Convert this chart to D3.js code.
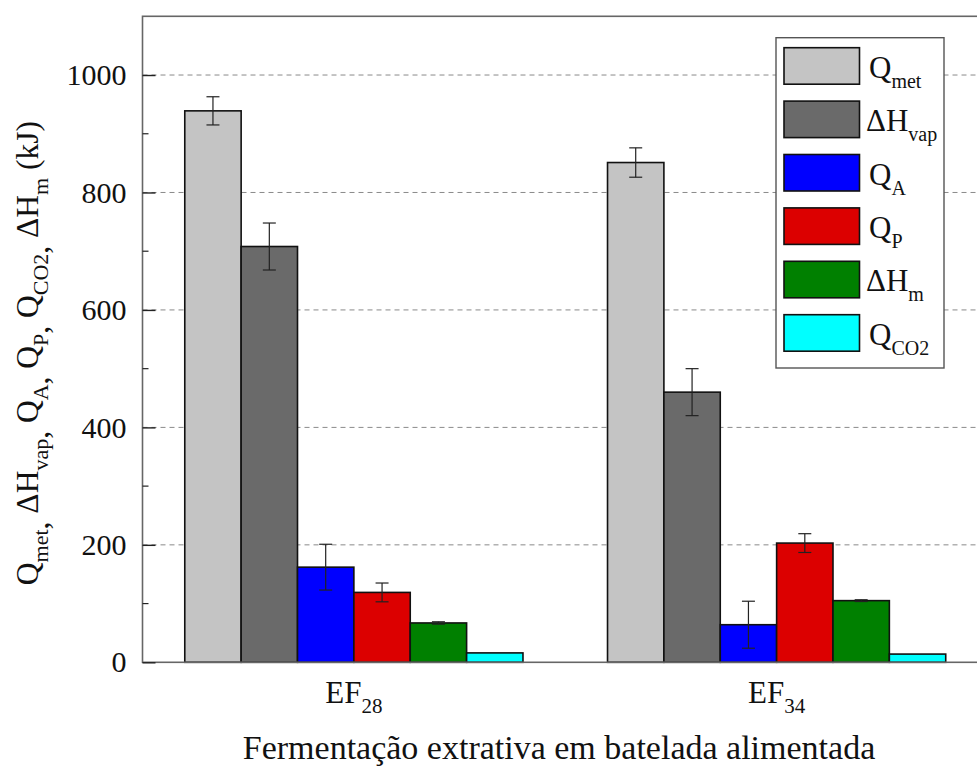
<!DOCTYPE html>
<html><head><meta charset="utf-8">
<script src="https://cdn.jsdelivr.net/npm/d3@7"></script>
<style>
body{margin:0;background:#fff}svg{display:block}
svg text{font-family:"Liberation Serif","Tinos","Times New Roman","DejaVu Serif",serif !important;}
</style>
</head><body>
<svg id="c" width="977" height="766"></svg>
<script>
const categories = ["EF28", "EF34"];
const categorySub = ["28", "34"];
const seriesNames = ["Qmet", "dHvap", "QA", "QP", "dHm", "QCO2"];
const seriesMain = ["Q", "ΔH", "Q", "Q", "ΔH", "Q"];
const seriesSub = ["met", "vap", "A", "P", "m", "CO2"];
const seriesColors = ["#c4c4c4", "#6a6a6a", "#0000ff", "#dc0000", "#008000", "#00ffff"];
const valuesEF28 = [939, 708, 162, 119, 67, 16];
const valuesEF34 = [851, 460, 64, 203, 105, 14];
const errorsEF28 = [24, 40, 39, 16, 2, 0];
const errorsEF34 = [25, 40, 40, 16, 1.5, 0];
const yTicks = [0, 200, 400, 600, 800, 1000];

const values = [valuesEF28, valuesEF34];
const errors = [errorsEF28, errorsEF34];

const svg = d3.select("#c");
const L = 142.5, R = 988, T = 16.3, B = 662.3;

const y = d3.scaleLinear().domain([0, 1100]).range([B, T]);
const x = d3.scaleBand().domain(categories).range([L, R]).paddingInner(0.2).paddingOuter(0.1);
const xs = d3.scaleBand().domain(seriesNames).range([0, x.bandwidth()]);

// gridlines
svg.append("g").selectAll("line").data(yTicks.filter(d => d > 0)).join("line")
  .attr("x1", L).attr("x2", R).attr("y1", d => y(d)).attr("y2", d => y(d))
  .attr("stroke", "#8a8a8a").attr("stroke-width", 1).attr("stroke-dasharray", "5,4");

// bars
const data = [];
categories.forEach((c, ci) => seriesNames.forEach((s, si) => data.push({c, s, si, v: values[ci][si], e: errors[ci][si]})));

svg.append("g").selectAll("rect").data(data).join("rect")
  .attr("x", d => x(d.c) + xs(d.s)).attr("width", xs.bandwidth())
  .attr("y", d => y(d.v)).attr("height", d => y(0) - y(d.v))
  .attr("fill", d => seriesColors[d.si]).attr("stroke", "#111").attr("stroke-width", 1.6);

// error bars
const eg = svg.append("g").attr("stroke", "#222").attr("stroke-width", 1.2);
data.filter(d => d.e > 0).forEach(d => {
  const cx = x(d.c) + xs(d.s) + xs.bandwidth() / 2;
  eg.append("line").attr("x1", cx).attr("x2", cx).attr("y1", y(d.v + d.e)).attr("y2", y(d.v - d.e));
  eg.append("line").attr("x1", cx - 6.5).attr("x2", cx + 6.5).attr("y1", y(d.v + d.e)).attr("y2", y(d.v + d.e));
  eg.append("line").attr("x1", cx - 6.5).attr("x2", cx + 6.5).attr("y1", y(d.v - d.e)).attr("y2", y(d.v - d.e));
});

// frame
svg.append("rect").attr("x", L).attr("y", T).attr("width", R - L).attr("height", B - T)
  .attr("fill", "none").attr("stroke", "#666").attr("stroke-width", 1.6);

// y axis
const yAxis = d3.axisLeft(y).tickValues(yTicks).tickFormat(d3.format("d")).tickSize(-13).tickPadding(16);
const ya = svg.append("g").attr("transform", `translate(${L},0)`).call(yAxis);
ya.select(".domain").remove();
ya.selectAll(".tick line").attr("stroke", "#222").attr("stroke-width", 1.4);
ya.selectAll(".tick text").attr("font-size", 30).attr("fill", "#111");
// minor ticks
const minor = d3.range(100, 1100, 200);
svg.append("g").selectAll("line").data(minor).join("line")
  .attr("x1", L).attr("x2", L + 6).attr("y1", d => y(d)).attr("y2", d => y(d))
  .attr("stroke", "#222").attr("stroke-width", 1.2);

// x tick labels
categories.forEach((c, ci) => {
  const t = svg.append("text").attr("x", x(c) + x.bandwidth() / 2).attr("y", 703)
    .attr("text-anchor", "middle").attr("font-size", 31).attr("fill", "#111");
  t.append("tspan").text("EF");
  t.append("tspan").attr("font-size", 21).attr("dy", 10).text(categorySub[ci]);
});

// x title
svg.append("text").attr("x", 559).attr("y", 759).attr("text-anchor", "middle")
  .attr("font-size", 34).attr("fill", "#111")
  .text("Fermentação extrativa em batelada alimentada");

// y title
const yt = svg.append("text").attr("transform", "translate(38,353) rotate(-90)")
  .attr("text-anchor", "middle").attr("font-size", 31.5).attr("fill", "#111");
const yParts = [["Q", "met"], ["ΔH", "vap"], ["Q", "A"], ["Q", "P"], ["Q", "CO2"], ["ΔH", "m"]];
yParts.forEach((p, i) => {
  yt.append("tspan").text((i > 0 ? " " : "") + p[0]).attr("dy", i > 0 ? -10 : 0);
  yt.append("tspan").attr("font-size", 22).attr("dy", 10).text(p[1]);
  if (i < yParts.length - 1) yt.append("tspan").text(",").attr("dy", 0);
});
yt.append("tspan").attr("dy", -10).text(" (kJ)");

// legend
const lg = svg.append("g");
lg.append("rect").attr("x", 776).attr("y", 37.7).attr("width", 168).attr("height", 330.3)
  .attr("fill", "#fff").attr("stroke", "#555").attr("stroke-width", 1.4);
const legendY = d3.scalePoint().domain(seriesNames).range([47.7, 314.7]);
seriesNames.forEach((s, i) => {
  const yy = legendY(s);
  lg.append("rect").attr("x", 784).attr("y", yy).attr("width", 75.5).attr("height", 36.5)
    .attr("fill", seriesColors[i]).attr("stroke", "#111").attr("stroke-width", 1.6);
  const t = lg.append("text").attr("x", seriesMain[i] === "Q" ? 869 : 866).attr("y", yy + 30)
    .attr("font-size", 31).attr("fill", "#111");
  t.append("tspan").text(seriesMain[i]);
  t.append("tspan").attr("font-size", 20).attr("dy", 10).text(seriesSub[i]);
});
</script>
</body></html>
